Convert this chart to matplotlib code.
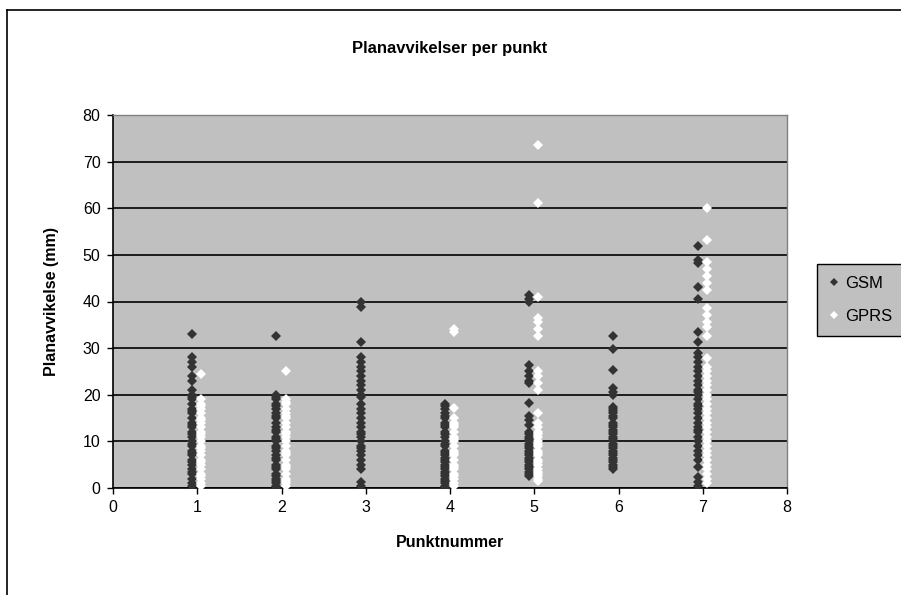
import matplotlib
matplotlib.use("Agg")
import matplotlib.pyplot as plt
from matplotlib.lines import Line2D
import numpy as np

plt.rcParams['font.family'] = ['Liberation Sans', 'DejaVu Sans']

title = "Planavvikelser per punkt"
xlabel = "Punktnummer"
ylabel = "Planavvikelse (mm)"
series_names = ["GSM", "GPRS"]

# GSM deviations per point (mm)
gsm_p1 = [33, 28, 27, 26, 24, 23, 21, 20, 19.5, 19, 18, 17, 16.5, 16, 15, 14, 13.5, 13, 12,
          11.5, 11, 10, 9.5, 9, 8, 7.5, 7, 6, 5.5, 5, 4, 3.5, 3, 2, 1, 0.5]
gsm_p2 = [32.5, 20, 19.5, 19, 18, 17.5, 17, 16, 15.5, 15, 14, 13, 12.5, 12, 11, 10.5, 10, 9,
          8.5, 8, 7, 6.5, 6, 5, 4.5, 4, 3, 2.5, 2, 1.5, 1, 0.5, 0.2]
gsm_p3 = [40, 38.9, 31.3, 28, 27, 26, 25, 24, 23, 22, 21, 20, 19.5, 18, 17, 16, 15, 14, 13,
          12, 11.5, 11, 10, 9, 8.5, 8, 7, 6, 5, 4, 1.3, 0.5]
gsm_p4 = [18, 17.5, 17, 16, 15.5, 15, 14, 13.5, 13, 12, 11.5, 11, 10, 9.5, 9, 8, 7.5, 7, 6.5,
          6, 5.5, 5, 4.5, 4, 3.5, 3, 2.5, 2, 1.5, 1, 0.5, 0.2]
gsm_p5 = [41.4, 40.5, 39.8, 26.3, 25, 24, 23, 22.5, 18.2, 15.5, 14.5, 13.5, 12, 11.5, 11, 10.5,
          10, 9.5, 9, 8.5, 8, 7.5, 7, 6.5, 6, 5.5, 5, 4.5, 4, 3.5, 3, 2.5]
gsm_p6 = [32.5, 29.8, 25.3, 21.4, 20.5, 20, 17.4, 17, 16.5, 16, 15.5, 15, 14, 13.5, 13, 12.5,
          12, 11.5, 11, 10.5, 10, 9.5, 9, 8.5, 8, 7.5, 7, 6.5, 6, 5.5, 5, 4.5, 4]
gsm_p7 = [52, 48.9, 48.2, 43.2, 40.5, 33.5, 31.3, 29, 28, 27, 26, 25, 24, 23, 22, 21, 20.5, 20,
          19, 18, 17.5, 17, 16, 15, 14, 13, 12.5, 12, 11, 10, 9, 8, 7, 6, 4.6, 2.4, 1.3, 0.5]

# GPRS deviations per point (mm)
gprs_p1 = [24.5, 19, 18, 17.5, 17, 16, 15, 14.5, 14, 13, 12, 11.5, 11, 10, 9, 8.5, 8, 7, 6,
           5.5, 5, 4, 3, 2.5, 2, 1, 0.5]
gprs_p2 = [25, 19, 18.5, 18, 17, 16, 15.5, 15, 14, 13, 12, 11.5, 11, 10, 9, 8, 7.5, 7, 6, 5,
           4.5, 4, 3, 2, 1.5, 1, 0.5]
gprs_p3 = []
gprs_p4 = [34, 33.5, 17.2, 15, 14, 13.5, 13, 12, 11, 10.5, 10, 9, 8, 7.5, 7, 6, 5, 4.5, 4, 3,
           2.5, 2, 1, 0.5]
gprs_p5 = [73.6, 61.1, 41, 36.5, 35.5, 34, 32.5, 25, 24, 22.5, 21, 16, 14, 13, 12, 11.5, 11,
           10, 9.5, 9, 8, 7.5, 7, 6, 5.5, 5, 4, 3.5, 3, 2.5, 2, 1.5]
gprs_p6 = []
gprs_p7 = [60, 53.2, 48.5, 47, 45.5, 44, 42.5, 38.6, 37, 35.5, 34.6, 32.7, 27.9, 26, 25, 24,
           23, 22, 21, 20, 19, 18, 17, 16, 15, 14, 13, 12, 11, 10, 9, 8, 7, 6, 5, 4, 3, 2, 1]

gsm = [gsm_p1, gsm_p2, gsm_p3, gsm_p4, gsm_p5, gsm_p6, gsm_p7]
gprs = [gprs_p1, gprs_p2, gprs_p3, gprs_p4, gprs_p5, gprs_p6, gprs_p7]
points = [1, 2, 3, 4, 5, 6, 7]
gsm_offset = -0.06
gprs_offset = 0.05

MS = 5.5

fig = plt.figure(figsize=(9.01, 5.95), dpi=100)
ax = fig.add_axes([113/901, 1-488/595, (787-113)/901, (488-115)/595])
ax.set_facecolor('#C0C0C0')

# figure frame
fig.add_artist(Line2D([7/901, 7/901], [0, 1-10/595], transform=fig.transFigure,
                      color='black', lw=1.2))
fig.add_artist(Line2D([7/901, 1], [1-10/595, 1-10/595], transform=fig.transFigure,
                      color='black', lw=1.2))

for p, vals in zip(points, gsm):
    if vals:
        ax.plot([p + gsm_offset]*len(vals), vals, linestyle='none', marker='D',
                markersize=MS, color='#333333', markeredgewidth=0, zorder=3)
for p, vals in zip(points, gprs):
    if vals:
        ax.plot([p + gprs_offset]*len(vals), vals, linestyle='none', marker='D',
                markersize=MS, color='white', markeredgewidth=0, zorder=3)

ax.set_xlim(0, 8)
ax.set_ylim(0, 80)
ax.set_xticks(range(0, 9))
ax.set_yticks(range(0, 81, 10))
ax.yaxis.grid(True, color='black', lw=1.2)
ax.set_axisbelow(True)
for s in ['top', 'right']:
    ax.spines[s].set_color('#808080')
    ax.spines[s].set_linewidth(1)
for s in ['left', 'bottom']:
    ax.spines[s].set_color('black')
    ax.spines[s].set_linewidth(1.2)
ax.tick_params(direction='out', length=4, width=1, labelsize=11.5, pad=5)

ax.set_title(title, fontsize=12, fontweight='bold', pad=45)
ax.set_xlabel(xlabel, fontsize=11.5, fontweight='bold', labelpad=14)
ax.set_ylabel(ylabel, fontsize=11.5, fontweight='bold', labelpad=17)

handles = [Line2D([], [], linestyle='none', marker='D', markersize=4.5, color='#333333',
                  markeredgewidth=0),
           Line2D([], [], linestyle='none', marker='D', markersize=4.5, color='white',
                  markeredgewidth=0)]
leg = fig.legend(handles, series_names, loc='upper left',
                 bbox_to_anchor=(817/901, 1-264/595), frameon=True, fancybox=False,
                 fontsize=12, handlelength=0.6, handletextpad=0.4, borderpad=0.7,
                 labelspacing=1.1, borderaxespad=0)
leg.get_frame().set_facecolor('#C0C0C0')
leg.get_frame().set_edgecolor('black')
leg.get_frame().set_linewidth(1)
leg.get_frame().set_alpha(1)

fig.savefig('out.png', dpi=100)
